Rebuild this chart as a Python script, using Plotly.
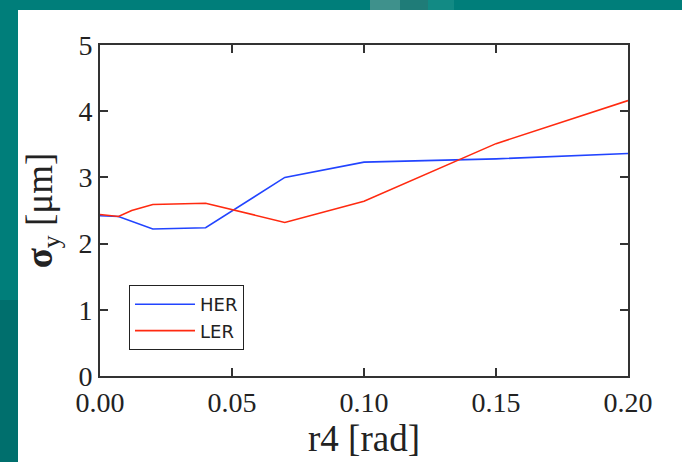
import plotly.graph_objects as go

x_her = [0.0, 0.007, 0.02, 0.04, 0.07, 0.10, 0.15, 0.20]
y_her = [2.42, 2.41, 2.22, 2.24, 3.00, 3.23, 3.28, 3.36]
x_ler = [0.0, 0.007, 0.012, 0.02, 0.04, 0.07, 0.10, 0.15, 0.20]
y_ler = [2.44, 2.41, 2.50, 2.59, 2.61, 2.32, 2.64, 3.51, 4.16]
x_ticks = [0.0, 0.05, 0.10, 0.15, 0.20]
x_ticklabels = ["0.00", "0.05", "0.10", "0.15", "0.20"]
y_ticks = [0, 1, 2, 3, 4, 5]

W, H = 682, 462
L, R, T, B = 100, 54, 45, 86
pw, ph = W - L - R, H - T - B


def px_x(p):
    return (p - L) / pw


def px_y(p):
    return (T + ph - p) / ph


fig = go.Figure()
fig.add_trace(go.Scatter(x=x_her, y=y_her, mode="lines", name="HER",
                         line=dict(color="#2244ff", width=1.6)))
fig.add_trace(go.Scatter(x=x_ler, y=y_ler, mode="lines", name="LER",
                         line=dict(color="#ff2a10", width=1.6)))

# white panel over teal slide background
fig.add_shape(type="rect", xref="paper", yref="paper", layer="below",
              x0=px_x(18), x1=px_x(W + 5), y0=px_y(H + 5), y1=px_y(10),
              fillcolor="white", line=dict(width=0))
# darker lower part of left strip
fig.add_shape(type="rect", xref="paper", yref="paper", layer="below",
              x0=px_x(-5), x1=px_x(18), y0=px_y(H + 5), y1=px_y(300),
              fillcolor="#006f6d", line=dict(width=0))
# lighter patches on top band
fig.add_shape(type="rect", xref="paper", yref="paper", layer="below",
              x0=px_x(370), x1=px_x(400), y0=px_y(10), y1=px_y(-5),
              fillcolor="#3f918c", line=dict(width=0))
fig.add_shape(type="rect", xref="paper", yref="paper", layer="below",
              x0=px_x(400), x1=px_x(428), y0=px_y(10), y1=px_y(-5),
              fillcolor="#1f7c78", line=dict(width=0))
fig.add_shape(type="rect", xref="paper", yref="paper", layer="below",
              x0=px_x(428), x1=px_x(454), y0=px_y(10), y1=px_y(-5),
              fillcolor="#128a84", line=dict(width=0))

axis_common = dict(showgrid=False, zeroline=False, showline=True, mirror="ticks",
                   linecolor="#333333", linewidth=2, ticks="inside", ticklen=8,
                   tickwidth=1.5, tickcolor="#333333",
                   tickfont=dict(family="Liberation Serif", size=28, color="#222222"))

fig.update_layout(
    width=W, height=H,
    margin=dict(l=L, r=R, t=T, b=B),
    paper_bgcolor="#007e7a", plot_bgcolor="white",
    xaxis=dict(range=[0, 0.20], tickvals=x_ticks, ticktext=x_ticklabels,
               title=dict(text="r4 [rad]", font=dict(family="Liberation Serif", size=37, color="#222222"),
                          standoff=2),
               **axis_common),
    yaxis=dict(range=[0, 5], tickvals=y_ticks,
               title=dict(text="<b>σ</b><sub>y</sub> [μm]", font=dict(family="Liberation Serif", size=37, color="#222222"),
                          standoff=14),
               **axis_common),
    legend=dict(x=px_x(129), y=px_y(285), xanchor="left", yanchor="top",
                bgcolor="white", bordercolor="#222222", borderwidth=1,
                font=dict(family="DejaVu Sans", size=18, color="#222222"),
                itemwidth=60, tracegroupgap=0),
    showlegend=True,
)

fig.write_html("out.html")
